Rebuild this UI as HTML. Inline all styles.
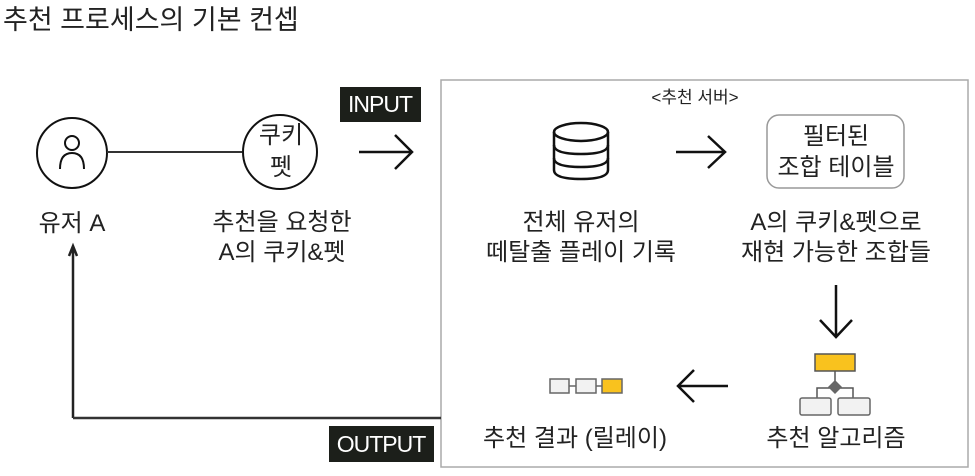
<!DOCTYPE html>
<html><head><meta charset="utf-8"><style>
body{margin:0;width:975px;height:476px;background:#fff;position:relative;overflow:hidden;font-family:"Liberation Sans","Noto Sans CJK KR",sans-serif;color:#222}
.t{position:absolute;white-space:nowrap;text-align:center;transform:translateX(-50%);font-size:24px;line-height:30px}
</style></head><body>
<div style="position:absolute;left:3px;top:1px;font-size:27px;line-height:38px;white-space:nowrap">추천 프로세스의 기본 컨셉</div>
<svg width="975" height="476" style="position:absolute;left:0;top:0">
<rect x="441" y="80" width="527" height="387" fill="none" stroke="#aaa" stroke-width="1.5"/>
<circle cx="72" cy="153" r="35" fill="none" stroke="#111" stroke-width="2"/>
<circle cx="72" cy="143" r="7" fill="none" stroke="#111" stroke-width="2"/>
<path d="M60 169 Q60 153 72 153 Q84 153 84 169" fill="none" stroke="#111" stroke-width="2"/>
<line x1="107" y1="152" x2="242" y2="152" stroke="#333" stroke-width="2"/>
<circle cx="280" cy="152" r="37" fill="none" stroke="#111" stroke-width="2"/>
<rect x="340" y="87" width="81" height="35" fill="#1c1f1a"/>
<path d="M359 152H411M395 135L412 152L395 169" fill="none" stroke="#111" stroke-width="2.5"/>
<path d="M73 418V248M69 256L73 246L77 256" fill="none" stroke="#222" stroke-width="2.5"/>
<line x1="73" y1="418" x2="441" y2="418" stroke="#333" stroke-width="2.5"/>
<rect x="329" y="426" width="105" height="36" fill="#1c1f1a"/>
<g fill="none" stroke="#111" stroke-width="2.5">
<ellipse cx="581" cy="132" rx="27" ry="9"/>
<path d="M554 132V170Q554 179 581 179Q608 179 608 170V132"/>
<path d="M554 145Q554 154 581 154Q608 154 608 145M554 158Q554 167 581 167Q608 167 608 158"/>
</g>
<path d="M676 152H724M708 136L725 152L708 168" fill="none" stroke="#111" stroke-width="2.5"/>
<rect x="767" y="115" width="137" height="73" rx="12" fill="none" stroke="#999" stroke-width="1.5"/>
<path d="M836 285V337M820 320L836 337L852 320" fill="none" stroke="#111" stroke-width="2.5"/>
<rect x="815" y="354" width="40" height="17" fill="#f9c21e" stroke="#555" stroke-width="1.5"/>
<path d="M835 371V382M817 398V388H853V398" fill="none" stroke="#555" stroke-width="1.5"/>
<path d="M835 380L842 387L835 394L828 387Z" fill="#666"/>
<rect x="800" y="398" width="31" height="17" rx="2" fill="#f2f2f2" stroke="#666" stroke-width="1.5"/>
<rect x="838" y="398" width="32" height="17" rx="2" fill="#f2f2f2" stroke="#666" stroke-width="1.5"/>
<path d="M728 386H678M694 370L678 386L694 402" fill="none" stroke="#111" stroke-width="2.5"/>
<rect x="550" y="379" width="19" height="14" fill="#f2f2f2" stroke="#666" stroke-width="1.5"/>
<rect x="576" y="379" width="20" height="14" fill="#f2f2f2" stroke="#666" stroke-width="1.5"/>
<rect x="602" y="379" width="20" height="14" fill="#f9c21e" stroke="#666" stroke-width="1.5"/>
<path d="M569 386H576M596 386H602" stroke="#666" stroke-width="1.5"/>
</svg>
<div class="t" style="left:380px;top:88px;color:#fff;font-size:23px;line-height:32px;letter-spacing:-1px">INPUT</div>
<div class="t" style="left:381px;top:428px;color:#fff;font-size:23px;line-height:32px;letter-spacing:-1px">OUTPUT</div>
<div class="t" style="left:281px;top:120px;line-height:32px">쿠키<br>펫</div>
<div class="t" style="left:72px;top:209px">유저 A</div>
<div class="t" style="left:282px;top:208px">추천을 요청한<br>A의 쿠키&amp;펫</div>
<div class="t" style="left:695px;top:85px;font-size:17px;line-height:26px">&lt;추천 서버&gt;</div>
<div class="t" style="left:836px;top:121px;line-height:31px">필터된<br>조합 테이블</div>
<div class="t" style="left:581px;top:208px">전체 유저의<br>떼탈출 플레이 기록</div>
<div class="t" style="left:836px;top:208px">A의 쿠키&amp;펫으로<br>재현 가능한 조합들</div>
<div class="t" style="left:836px;top:424px">추천 알고리즘</div>
<div class="t" style="left:575px;top:424px">추천 결과 (릴레이)</div>
</body></html>
